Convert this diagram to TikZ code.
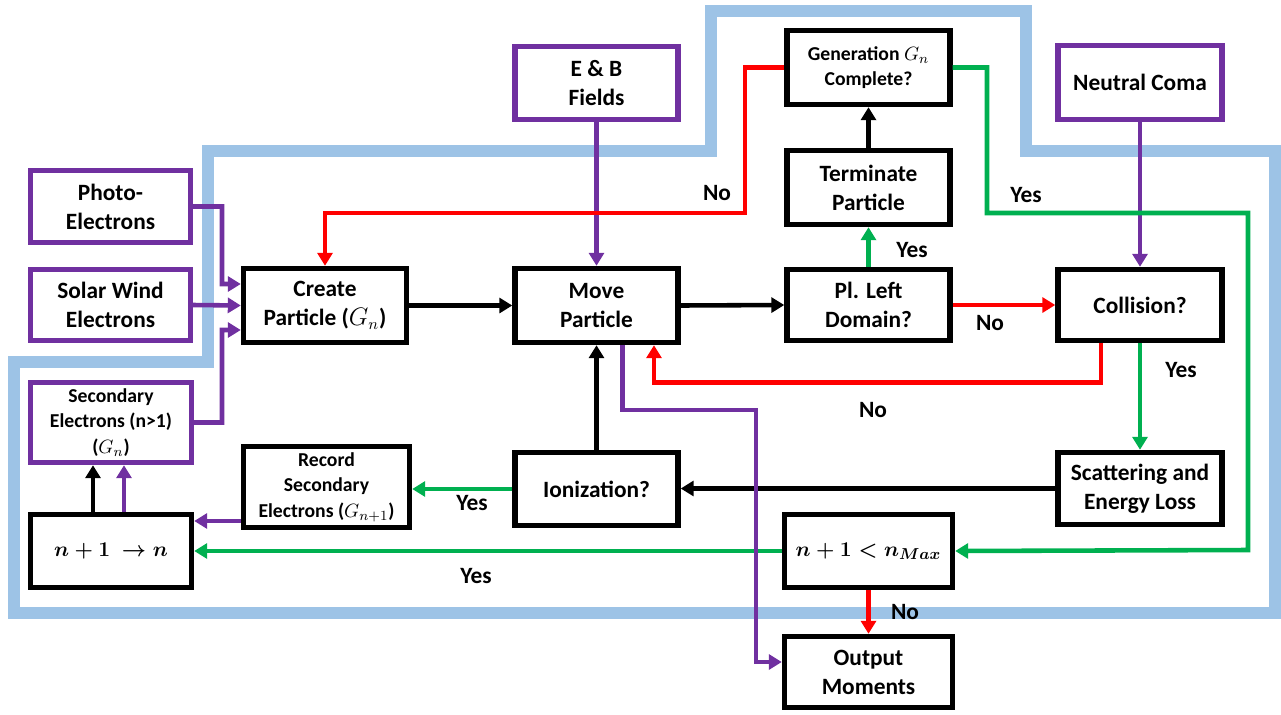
\documentclass[tikz,border=0pt]{standalone}
\usepackage{fontspec}
\setmainfont{Carlito}
\usepackage{amsmath}
\usepackage{bm}
\usepackage{tikz}
\usetikzlibrary{positioning,arrows.meta}
\definecolor{domainblue}{HTML}{9dc3e6}
\definecolor{source}{HTML}{7030a0}
\definecolor{yescol}{HTML}{00b050}
\definecolor{nocol}{HTML}{ff0000}

\begin{document}
\begin{tikzpicture}[
    x=0.02cm, y=-0.02cm,
    every node/.style = {font=\fontsize{13.3}{16.5}\selectfont\bfseries},
    box/.style = {rectangle, draw=black, line width=3.1pt, minimum width=3.26cm, minimum height=1.5cm, align=center, inner sep=2pt},
    srcbox/.style = {box, draw=source},
    small/.style = {font=\fontsize{11.2}{14.5}\selectfont\bfseries},
    big/.style = {font=\fontsize{12.5}{15}\selectfont\boldmath},
    flow/.style = {line width=2.6pt, -{Triangle[length=0.26cm, width=0.3cm]}},
    blackline/.style = {flow, draw=black},
    yesline/.style = {flow, draw=yescol},
    noline/.style = {flow, draw=nocol},
    srcline/.style = {flow, draw=source},
]
    \useasboundingbox (0,0) rectangle (1281,714);

    % simulation domain
    \draw[draw=domainblue, line width=0.24cm, line join=miter]
        (14,362) -- (208,362) -- (208,151) -- (711,151) -- (711,11) -- (1026,11)
        -- (1026,151) -- (1275,151) -- (1275,613) -- (14,613) -- cycle;

    % inputs
    \node [srcbox, minimum width=3.2cm, minimum height=1.44cm] (photo) at (110.5,206.5) {Photo-\\Electrons};
    \node [srcbox, minimum width=3.2cm, minimum height=1.42cm] (solar) at (110.5,305) {Solar Wind\\Electrons};
    \node [srcbox, small, minimum width=3.22cm, minimum height=1.6cm] (second) at (111,422.5) {Secondary\\Electrons (n>1)\\($G_n$)};
    \node [srcbox, minimum height=1.46cm] (fields) at (596.5,83) {E \& B\\Fields};
    \node [srcbox, minimum width=3.28cm, minimum height=1.48cm] (coma) at (1140,82.5) {Neutral Coma};

    % main loop
    \node [box, minimum height=1.48cm] (create) at (325,305.5) {Create\\Particle ($G_n$)};
    \node [box, minimum height=1.48cm] (move) at (596.5,305.5) {Move\\Particle};
    \node [box, minimum height=1.42cm] (left) at (868.5,305) {Pl. Left\\Domain?};
    \node [box, minimum height=1.48cm] (term) at (868.5,187.5) {Terminate\\Particle};
    \node [box, small, minimum height=1.48cm] (gen) at (868.5,67.5) {Generation $G_n$\\Complete?};
    \node [box, minimum width=3.28cm, minimum height=1.42cm] (coll) at (1140,305) {Collision?};
    \node [box, minimum width=3.28cm, minimum height=1.44cm] (scat) at (1140,488.5) {Scattering and\\Energy Loss};
    \node [box, minimum height=1.46cm] (ioniz) at (596.5,489) {Ionization?};
    \node [box, small, minimum width=3.32cm, minimum height=1.62cm] (record) at (326.5,487) {Record\\Secondary\\Electrons ($G_{n+1}$)};
    \node [box, big, minimum width=3.22cm, minimum height=1.46cm] (nupd) at (111,551) {$n+1\ \rightarrow n$};
    \node [box, big, minimum width=3.36cm, minimum height=1.46cm] (nmax) at (868.5,551) {$n+1<n_{Max}$};
    \node [box, minimum width=3.36cm, minimum height=1.42cm] (output) at (868.5,672) {Output\\Moments};

    % connectors
    \draw[srcline] (photo.east) -| (222,284) -- ([yshift=0.43cm]create.west);
    \draw[srcline] (solar.east) -- (create.west);
    \draw[srcline] (second.east) -| (222,330) -- ([yshift=-0.49cm]create.west);
    \draw[srcline] (fields.south) -- (move.north);
    \draw[srcline] (coma.south) -- (coll.north);
    \draw[blackline] (create.east) -- (move.west);
    \draw[blackline] (move.east) -- (left.west);
    \draw[noline] (left.east) -- (coll.west);
    \draw[yesline] (left.north) -- (term.south);
    \draw[blackline] (term.north) -- (gen.south);
    \draw[noline] (gen.west) -| (745,213) -| (create.north);
    \draw[yesline] (gen.east) -| (987,213) -| (1248,550) -- (nmax.east);
    \draw[noline] ([xshift=-0.78cm]coll.south) -- ++(0,39) -| ([xshift=1.15cm]move.south);
    \draw[yesline] (coll.south) -- (scat.north);
    \draw[blackline] (scat.west) -- (scat.west -| ioniz.east);
    \draw[blackline] (ioniz.north) -- (move.south);
    \draw[yesline] (ioniz.west) -- (ioniz.west -| record.east);
    \draw[srcline] ([yshift=-0.68cm]record.west) -- ([yshift=-0.68cm]record.west -| nupd.east);
    \draw[yesline] (nmax.west) -- (nupd.east);
    \draw[noline] (nmax.south) -- (output.north);
    \draw[blackline] ([xshift=-0.36cm]nupd.north) -- ([xshift=-0.36cm]second.south);
    \draw[srcline] ([xshift=0.26cm]nupd.north) -- ([xshift=0.26cm]second.south);
    \draw[srcline] ([xshift=0.52cm]move.south) |- (756,410) |- ([yshift=0.2cm]output.west);

    % answers
    \node (nogen) at (717,193) {No};
    \node (yesgen) at (1026,195) {Yes};
    \node (yesleft) at (912,250) {Yes};
    \node (noleft) at (990,323) {No};
    \node (nocoll) at (873,410) {No};
    \node (yescoll) at (1181,370) {Yes};
    \node (yesion) at (472,503) {Yes};
    \node (yesmax) at (476,576) {Yes};
    \node (nomax) at (905,612) {No};

\end{tikzpicture}
\end{document}
